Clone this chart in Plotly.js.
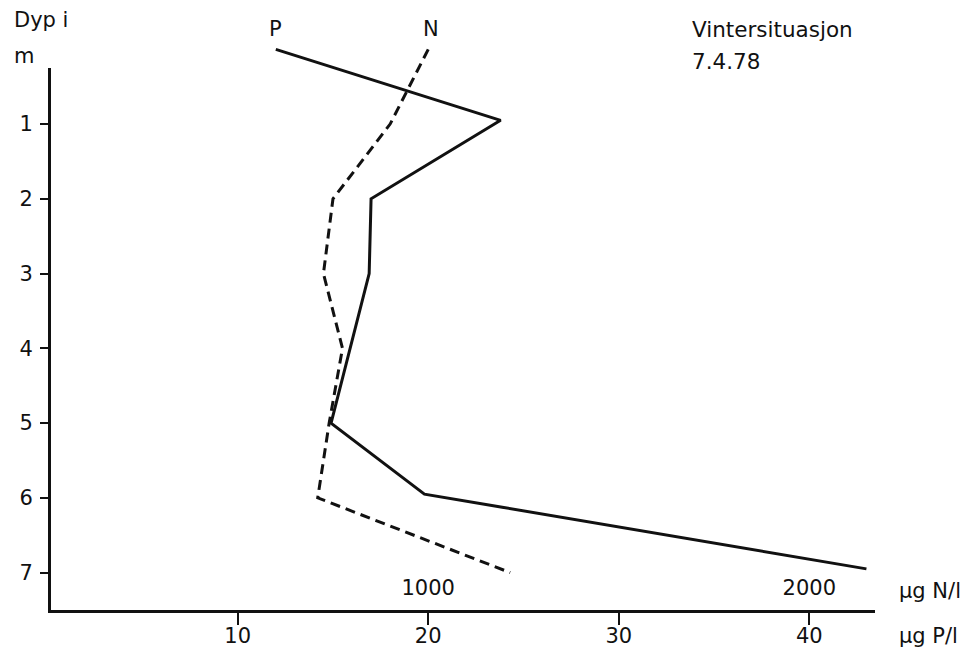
<!DOCTYPE html>
<html>
<head>
<meta charset="utf-8">
<script src="https://cdn.plot.ly/plotly-3.0.1.min.js"></script>
<style>html,body{margin:0;padding:0;background:#fff;}#chart{width:966px;height:657px;}</style>
</head>
<body>
<div id="chart"></div>
<script>
// Depth profiles, winter situation 7.4.78
const pDepth = [0, 0.95, 2, 3, 5, 5.95, 6.95];      // m
const pValue = [12, 23.8, 17.0, 16.9, 14.9, 19.8, 43.0]; // µg P/l
const nDepth = [0, 1, 2, 3, 4, 5, 6, 7];             // m
const nValue = [1000, 900, 750, 725, 775, 740, 710, 1215]; // µg N/l
const depthTicks = [1, 2, 3, 4, 5, 6, 7];
const pTicks = [10, 20, 30, 40];
const nTicks = [1000, 2000];

const FONT = 'DejaVu Sans, sans-serif';
const INK = '#111111';

const xRange = [0.2, 43.45];
const nPerP = 50;

// visible depth axis and an invisible taller axis (same scale) so lines can reach depth 0
const W = 966, H = 657, mL = 51, mR = 91, mT = 45, mB = 47;
const plotH = H - mT - mB;            // full data area height
const axisTopPx = 68;                 // where the drawn depth axis starts
const yVisRange = [7.5, 0.25];
const visH = H - mB - axisTopPx;
const pxPerUnit = visH / (yVisRange[0] - yVisRange[1]);
const y2Range = [7.5, yVisRange[1] - (axisTopPx - mT) / pxPerUnit];

const traces = [
  // empty trace that registers the x/y subplot carrying the drawn axes
  {x: [], y: [], xaxis: 'x', yaxis: 'y', mode: 'lines', hoverinfo: 'skip', showlegend: false},
  {x: pValue, y: pDepth, xaxis: 'x', yaxis: 'y2', mode: 'lines', name: 'P',
   line: {color: INK, width: 3}},
  {x: nValue, y: nDepth, xaxis: 'x2', yaxis: 'y2', mode: 'lines', name: 'N',
   line: {color: INK, width: 3, dash: '10px,6px'}}
];

const layout = {
  width: W, height: H,
  margin: {l: mL, r: mR, t: mT, b: mB},
  paper_bgcolor: '#fff', plot_bgcolor: 'rgba(0,0,0,0)',
  showlegend: false,
  font: {family: FONT, size: 21, color: INK},
  xaxis: {
    range: xRange, tickvals: pTicks, ticktext: pTicks.map(String),
    anchor: 'y',
    showgrid: false, zeroline: false, showline: true, linecolor: INK, linewidth: 3,
    ticks: 'outside', ticklen: 12, tickwidth: 2, tickcolor: INK,
    ticklabelstandoff: -7,
    tickfont: {family: FONT, size: 21, color: INK}
  },
  xaxis2: {
    overlaying: 'x', anchor: 'y', side: 'bottom',
    range: xRange.map(v => v * nPerP), tickvals: nTicks, ticktext: nTicks.map(String),
    showgrid: false, zeroline: false, showline: false, ticks: '',
    ticklabelposition: 'inside',
    ticklabelstandoff: 8,
    tickfont: {family: FONT, size: 21, color: INK}
  },
  yaxis: {
    domain: [0, visH / plotH],
    range: yVisRange, tickvals: depthTicks, ticktext: depthTicks.map(String),
    anchor: 'x',
    showgrid: false, zeroline: false, showline: true, linecolor: INK, linewidth: 3,
    ticks: 'outside', ticklen: 8, tickwidth: 2, tickcolor: INK,
    ticklabelstandoff: 3,
    tickfont: {family: FONT, size: 21, color: INK}
  },
  yaxis2: {
    domain: [0, 1], range: y2Range, anchor: 'x',
    visible: false, showgrid: false, zeroline: false
  },
  annotations: [
    {text: 'Dyp i', xref: 'paper', yref: 'paper', x: -0.0473, y: 1.0886, xanchor: 'left', yanchor: 'middle', showarrow: false},
    {text: 'm', xref: 'paper', yref: 'paper', x: -0.0473, y: 1.0221, xanchor: 'left', yanchor: 'middle', showarrow: false},
    {text: 'P', xref: 'x', yref: 'paper', x: pValue[0], y: 1.072, xanchor: 'center', yanchor: 'middle', showarrow: false},
    {text: 'N', xref: 'x2', yref: 'paper', x: nValue[0], y: 1.072, xanchor: 'center', yanchor: 'middle', xshift: 3, showarrow: false},
    {text: 'Vintersituasjon', xref: 'paper', yref: 'paper', x: 0.7755, y: 1.0707, xanchor: 'left', yanchor: 'middle', showarrow: false, font: {size: 21.5}},
    {text: '7.4.78', xref: 'paper', yref: 'paper', x: 0.7755, y: 1.0129, xanchor: 'left', yanchor: 'middle', showarrow: false, font: {size: 21.5}},
    {text: 'µg N/l', xref: 'paper', yref: 'paper', x: 1.0267, y: 0.0351, xanchor: 'left', yanchor: 'middle', showarrow: false},
    {text: 'µg P/l', xref: 'paper', yref: 'paper', x: 1.0267, y: -0.048, xanchor: 'left', yanchor: 'middle', showarrow: false}
  ]
};

// annotation paper coords were computed for a plot area starting at y=68; rescale to the taller area
layout.annotations.forEach(a => { if (a.yref === 'paper') a.y = a.y * visH / plotH; });

Plotly.newPlot('chart', traces, layout, {staticPlot: true, displayModeBar: false});
</script>
</body>
</html>
